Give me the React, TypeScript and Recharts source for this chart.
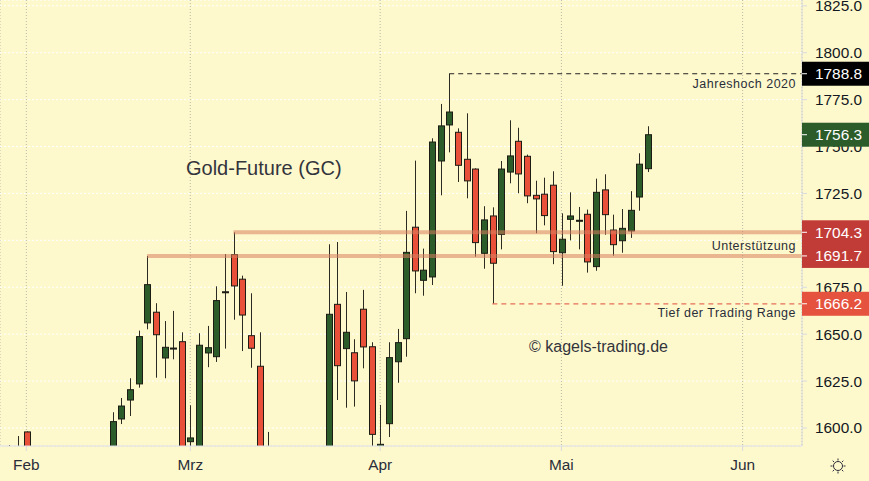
import { Bar, CartesianGrid, ComposedChart, ReferenceLine, XAxis, YAxis } from 'recharts'

const indexes = [-2, -1, 0, 10, 11, 12, 13, 14, 15, 16, 17, 18, 19, 20, 21, 22, 23, 24, 25, 26, 27, 28, 35, 36, 37, 38, 39, 40, 41, 42, 43, 44, 45, 46, 47, 48, 49, 50, 51, 52, 53, 54, 55, 56, 57, 58, 59, 60, 61, 62, 63, 64, 65, 66, 67, 68, 69, 70, 71, 72]
const opens = [1580, 1580, 1597.9, 1585, 1604.8, 1614.9, 1623.5, 1656, 1661.7, 1637.3, 1642.6, 1646, 1592.7, 1585, 1640, 1638, 1672.6, 1692.4, 1679.3, 1649.2, 1632.9, 1582, 1585, 1665.9, 1642.3, 1640.1, 1663.3, 1643.3, 1590, 1602.3, 1635.3, 1647.6, 1707, 1678.7, 1680.5, 1742.3, 1761.5, 1757.6, 1743.2, 1738, 1693.1, 1713, 1703.2, 1736.4, 1752.8, 1744.8, 1724, 1724.6, 1729.4, 1693.4, 1711.2, 1710.7, 1713.9, 1686, 1726.9, 1705.5, 1699.8, 1705, 1723.1, 1738.2]
const closes = [1585, 1585, 1580, 1603.4, 1611.7, 1620.4, 1648.7, 1676.4, 1649.7, 1643, 1642.6, 1585, 1594.7, 1644.1, 1642.8, 1667.9, 1672.6, 1675.7, 1660.2, 1642.5, 1585, 1585, 1660.6, 1633.2, 1651, 1625.1, 1643.2, 1596.6, 1591.3, 1637.5, 1645.5, 1693.6, 1683.7, 1684.1, 1752.4, 1761, 1768.4, 1740, 1731.7, 1698.8, 1710.9, 1687.8, 1738, 1745, 1735.4, 1723.7, 1722.1, 1713.2, 1694, 1700.6, 1713, 1710.7, 1688.5, 1725.6, 1713.7, 1697.7, 1706.4, 1716, 1740.6, 1756.3]
const highs = [1590.9, 1595.7, 1598.2, 1608.4, 1616, 1626.5, 1651.9, 1691.7, 1666.5, 1657, 1662.4, 1651, 1612.1, 1650.5, 1654.4, 1675.5, 1692.7, 1704.3, 1681.2, 1671.8, 1651, 1597.9, 1697.9, 1699.1, 1672.5, 1647.3, 1673.6, 1645.7, 1612.3, 1645.7, 1652.8, 1715.7, 1742.5, 1695.6, 1754.4, 1772.7, 1788.8, 1759.7, 1767.7, 1738.4, 1718.2, 1717.6, 1742.3, 1764, 1760, 1745.7, 1731.8, 1733.4, 1736.8, 1714.4, 1725.6, 1717.8, 1716.4, 1732.9, 1735.2, 1713.7, 1716.7, 1726.2, 1746.4, 1760.8]
const lows = [1578, 1578, 1575, 1582, 1602.1, 1606.4, 1621.5, 1652.6, 1626.8, 1626.5, 1636.6, 1580, 1585, 1580, 1632.4, 1635.2, 1642.3, 1657.7, 1641, 1632.1, 1580, 1578, 1580, 1614.9, 1610.8, 1611.4, 1631.8, 1585, 1585, 1595.2, 1624.1, 1638, 1671.8, 1670.5, 1676.2, 1724, 1746.9, 1731.1, 1722.4, 1691.3, 1684.9, 1666.2, 1695.2, 1730.4, 1725.1, 1719.8, 1703.8, 1708, 1687.3, 1675.8, 1700, 1695.2, 1682.8, 1683.8, 1703, 1691.8, 1693.4, 1701.3, 1715.8, 1736.4]

const priceTicks = [1600, 1625, 1650, 1675, 1700, 1725, 1750, 1775, 1800, 1825]
const monthTicks = [0, 19, 41, 62, 83]
const monthLabels = ['Feb', 'Mrz', 'Apr', 'Mai', 'Jun']

const tagPrices = [1756.3, 1788.8, 1704.3, 1691.7, 1666.2]
const tagColors = ['#2b5c2a', '#000000', '#c23c37', '#c23c37', '#e5533f']

const supportLevels = [
  { start: 24, price: 1704.3 },
  { start: 14, price: 1691.7 },
]

const LAST_SLOT = 89.88
const FONT = '"Liberation Sans", Arial, sans-serif'

const chartData = indexes.map((index, i) => ({
  index,
  open: opens[i],
  close: closes[i],
  high: highs[i],
  low: lows[i],
}))

const Candle = (props: any) => {
  const { x, y, width, height, payload } = props
  const top = Math.min(y, y + height)
  const perUnit = Math.abs(height) / (payload.high - payload.low)
  const yOf = (value: number) => top + (payload.high - value) * perUnit
  const center = Math.round(x + width / 2) + 0.5
  const bodyTop = yOf(Math.max(payload.open, payload.close))
  const bodyBottom = yOf(Math.min(payload.open, payload.close))
  const up = payload.close >= payload.open
  return (
    <g>
      <line x1={center} x2={center} y1={top} y2={top + Math.abs(height)} stroke="#2b2b22" strokeWidth={1} />
      <rect
        x={center - 3}
        y={bodyTop}
        width={6}
        height={Math.max(bodyBottom - bodyTop, 1)}
        fill={up ? '#2b5c2a' : '#e8503a'}
        stroke="#1c1c14"
        strokeWidth={1}
      />
    </g>
  )
}

const PriceTag = (props: any) => {
  const { viewBox, price, color } = props
  const left = viewBox.x + viewBox.width
  const mid = viewBox.y
  return (
    <g>
      <rect x={left} y={mid - 12} width={67} height={24} fill={color} />
      <line x1={left} x2={left + 5} y1={mid} y2={mid} stroke="#ffffff" />
      <text x={left + 13} y={mid + 5.5} fill="#ffffff" fontSize={15.4} fontFamily={FONT}>
        {price.toFixed(1)}
      </text>
    </g>
  )
}

const Note = ({ y, children }: { y: number; children: string }) => (
  <text x={796} y={y} textAnchor="end" fontSize={12.5} letterSpacing={0.5} fill="#2a2e39" fontFamily={FONT}>
    {children}
  </text>
)

const App = () => {
  return (
    <div style={{ position: 'absolute', left: 0, top: 0, width: 869, height: 481, background: '#fef9cd' }}>
      <ComposedChart
        width={869}
        height={481}
        data={chartData}
        margin={{ top: 0, right: 0, bottom: 0, left: 0 }}
      >
        <CartesianGrid horizontal vertical={false} stroke="#ffffff" strokeDasharray="2 2" />
        <CartesianGrid horizontal={false} vertical stroke="#b9b9a6" strokeDasharray="1 2" />

        <XAxis
          dataKey="index"
          type="number"
          domain={[-3.05, LAST_SLOT]}
          allowDataOverflow
          ticks={monthTicks}
          tickFormatter={(value: number) => monthLabels[monthTicks.indexOf(value)]}
          height={35}
          tickSize={5}
          tickMargin={8}
          axisLine={{ stroke: '#d8dae0' }}
          tickLine={{ stroke: '#d8dae0' }}
          tick={{ fill: '#2a2e39', fontSize: 15.4, fontFamily: FONT }}
        />
        <YAxis
          orientation="right"
          domain={[1590.4, 1828.1]}
          allowDataOverflow
          ticks={priceTicks}
          interval={0}
          tickFormatter={(value: number) => value.toFixed(1)}
          width={67}
          tickSize={5}
          tickMargin={8}
          axisLine={{ stroke: '#d8dae0' }}
          tickLine={{ stroke: '#d8dae0' }}
          tick={{ fill: '#131722', fontSize: 15.4, fontFamily: FONT, textAnchor: 'start' }}
        />

        <Bar
          dataKey={(d: any) => [d.low, d.high]}
          barSize={7}
          shape={<Candle />}
          isAnimationActive={false}
        />

        {supportLevels.map((level) => (
          <ReferenceLine
            key={level.price}
            segment={[
              { x: level.start, y: level.price },
              { x: LAST_SLOT, y: level.price },
            ]}
            stroke="#d9805c"
            strokeOpacity={0.55}
            strokeWidth={4}
          />
        ))}
        <ReferenceLine
          segment={[
            { x: 49, y: 1788.8 },
            { x: LAST_SLOT, y: 1788.8 },
          ]}
          stroke="#222222"
          strokeDasharray="5 4"
        />
        <ReferenceLine
          segment={[
            { x: 54, y: 1666.2 },
            { x: LAST_SLOT, y: 1666.2 },
          ]}
          stroke="#e56f58"
          strokeWidth={1.3}
          strokeDasharray="5 4"
        />

        {tagPrices.map((price, i) => (
          <ReferenceLine
            key={price}
            y={price}
            stroke="none"
            zIndex={3000}
            label={<PriceTag price={price} color={tagColors[i]} zIndex={3000} />}
          />
        ))}

        <text x={186} y={175} fontSize={20} fill="#33343c" fontFamily={FONT}>
          Gold-Future (GC)
        </text>
        <text x={529} y={352} fontSize={16} fill="#33343c" fontFamily={FONT}>
          © kagels-trading.de
        </text>
        <Note y={88}>Jahreshoch 2020</Note>
        <Note y={250}>Unterstützung</Note>
        <Note y={317}>Tief der Trading Range</Note>

        <g stroke="#2a2e39" fill="none" strokeWidth={1}>
          <circle cx={838} cy={466} r={4.5} />
          <path d="M838 458.500v2M838 471.500v2M830.500 466h2M843.500 466h2M832.700 460.700l1.400 1.400M841.900 469.900l1.400 1.400M832.700 471.300l1.400 -1.400M841.900 462.100l1.400 -1.400" />
        </g>
      </ComposedChart>
    </div>
  )
}

export default App
